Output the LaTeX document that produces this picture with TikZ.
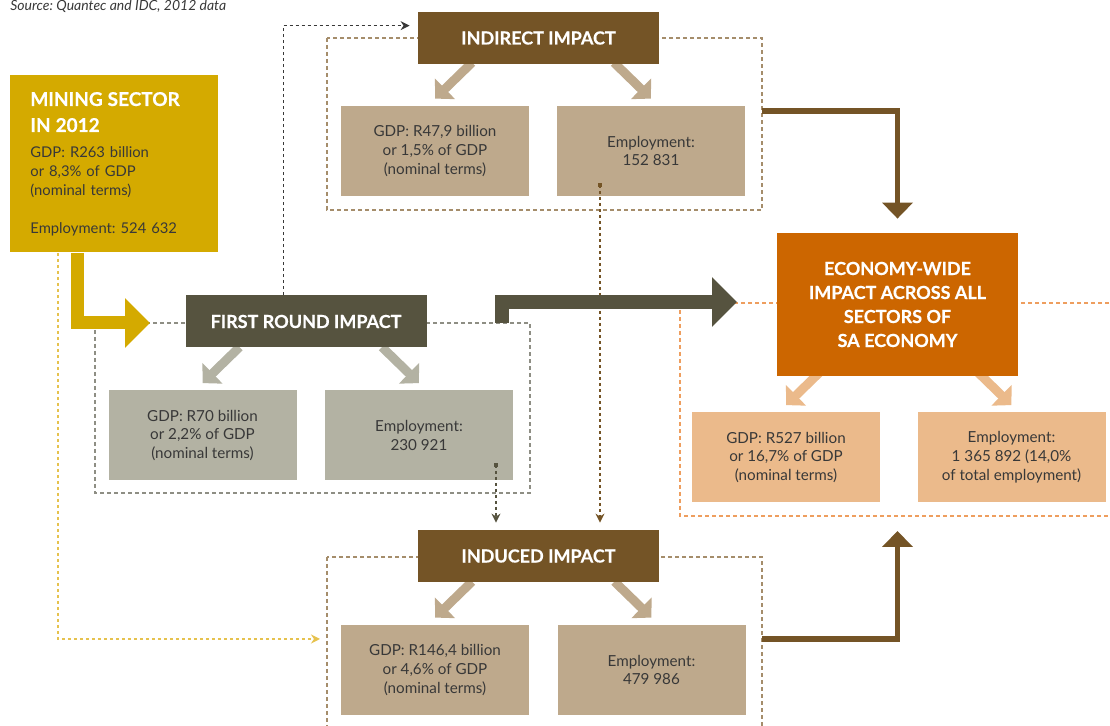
\documentclass[tikz,border=0pt]{standalone}
\usepackage{fontspec}
\setmainfont{Lato}
\newfontfamily\heavyfont[BoldFeatures={FakeBold=0.5}]{Lato}
\usetikzlibrary{arrows.meta,calc,backgrounds}

\definecolor{miningc}{HTML}{D4AA00}
\definecolor{olivec}{HTML}{56533F}
\definecolor{frsubc}{HTML}{B3B2A3}
\definecolor{brownc}{HTML}{745426}
\definecolor{tanc}{HTML}{BEA98C}
\definecolor{ecoc}{HTML}{CC6600}
\definecolor{ecosubc}{HTML}{EBBA8B}
\definecolor{txtc}{HTML}{383838}
\definecolor{frlinec}{HTML}{8E8E84}
\definecolor{indlinec}{HTML}{A58D6B}
\definecolor{ecolinec}{HTML}{EE9E5E}
\definecolor{yellowlinec}{HTML}{E6C24E}

\begin{document}
\frenchspacing
\begin{tikzpicture}[x=0.5pt, y=-0.5pt,
    hdr/.style={minimum width=120.5pt, minimum height=26pt, inner sep=0pt,
        text=white, align=center, font=\heavyfont\bfseries\fontsize{9}{12}\selectfont},
    sub/.style={minimum width=94pt, minimum height=45pt, inner sep=0pt,
        align=center, text=txtc, font=\fontsize{7.6}{9.4}\selectfont},
    frame/.style={line width=0.6pt, dash pattern=on 2pt off 1.5pt},
    link/.style={line width=0.6pt, dash pattern=on 1.5pt off 1.5pt,
        -{Stealth[length=4.5pt,width=4.5pt]}},
    subarrow/.style={line width=4.5pt, -{Triangle[length=7pt,width=14pt]}},
    bigarrow/.style={line width=6.5pt, -{Triangle[length=12.5pt,width=24pt]}},
    midarrow/.style={brownc, line width=2.8pt, -{Triangle[length=8pt,width=15pt]}},
    marker/.style={fill, minimum size=2pt, inner sep=0pt}
]
\useasboundingbox (0,0) rectangle (1110,726);

% Source
\node[anchor=base west, inner sep=0pt, text=txtc,
    font=\itshape\fontsize{7}{8}\selectfont] (src) at (10,11)
    {Source: Quantec and IDC, 2012 data};

% Nodes
\node[fill=miningc, anchor=north west, minimum width=104pt, minimum height=88.5pt,
    inner xsep=10pt, inner ysep=0pt, text width=84pt, align=left, text=txtc,
    font=\fontsize{7.4}{9.4}\selectfont] (mining) at (10,75)
    {{\color{white}\heavyfont\bfseries\fontsize{9.5}{13}\selectfont MINING SECTOR\\IN 2012\par}
     \vspace{3.6pt}GDP: R263 billion\\or 8,3\% of GDP\\(nominal terms)\\[9.4pt]Employment: 524 632};

\node[hdr, fill=olivec] (fr) at (306,321.5) {FIRST ROUND IMPACT};
\node[sub, fill=frsubc] (frgdp) at (202.5,435.5) {GDP: R70 billion\\or 2,2\% of GDP\\(nominal terms)};
\node[sub, fill=frsubc] (fremp) at (419,435.5) {Employment:\\230 921};

\node[hdr, fill=brownc] (ind) at (538.5,38) {INDIRECT IMPACT};
\node[sub, fill=tanc] (indgdp) at (435,151) {GDP: R47,9 billion\\or 1,5\% of GDP\\(nominal terms)};
\node[sub, fill=tanc] (indemp) at (651,151) {Employment:\\152 831};

\node[hdr, fill=brownc] (idc) at (538.5,556) {INDUCED IMPACT};
\node[sub, fill=tanc] (idcgdp) at (435,670) {GDP: R146,4 billion\\or 4,6\% of GDP\\(nominal terms)};
\node[sub, fill=tanc] (idcemp) at (651.5,670) {Employment:\\479 986};

\node[hdr, fill=ecoc, minimum height=71.5pt] (eco) at (897.5,304.5)
    {ECONOMY-WIDE\\IMPACT ACROSS ALL\\SECTORS OF\\SA ECONOMY};
\node[sub, fill=ecosubc] (ecogdp) at (786,457.5) {GDP: R527 billion\\or 16,7\% of GDP\\(nominal terms)};
\node[sub, fill=ecosubc] (ecoemp) at (1011.5,457.5) {Employment:\\1 365 892 (14,0\%\\of total employment)};

% Frames
\coordinate (frNW) at (95,323);   \coordinate (frSE) at (530,493);
\coordinate (indNW) at (327,38);  \coordinate (indSE) at (762,210);
\coordinate (idcNW) at (327,557); \coordinate (idcSE) at (762,760);
\coordinate (ecoNW) at (680,303); \coordinate (ecoSE) at (1140,516);
\coordinate (m1) at (496,465);
\coordinate (m2) at (600,185);

\begin{scope}[on background layer]
    \draw[frame, frlinec] (frNW) rectangle (frSE);
    \draw[frame, indlinec] (indNW) rectangle (indSE);
    \draw[frame, indlinec] (idcNW) rectangle (idcSE);
    \draw[frame, ecolinec] (ecoNW) rectangle (ecoSE);

    % small arrows
    \draw[subarrow, frsubc] ($(frgdp.north)+(37,-43)$) -- ($(frgdp.north)+(0,-7)$);
    \draw[subarrow, frsubc] ($(fremp.north)+(-37,-43)$) -- ($(fremp.north)+(0,-7)$);
    \draw[subarrow, tanc] ($(indgdp.north)+(37,-43)$) -- ($(indgdp.north)+(0,-7)$);
    \draw[subarrow, tanc] ($(indemp.north)+(-37,-43)$) -- ($(indemp.north)+(0,-7)$);
    \draw[subarrow, tanc] ($(idcgdp.north)+(37,-43)$) -- ($(idcgdp.north)+(0,-7)$);
    \draw[subarrow, tanc] ($(idcemp.north)+(-37,-43)$) -- ($(idcemp.north)+(0,-7)$);
    \draw[subarrow, ecosubc] ($(ecogdp.north)+(37,-43)$) -- ($(ecogdp.north)+(0,-7)$);
    \draw[subarrow, ecosubc] ($(ecoemp.north)+(-37,-43)$) -- ($(ecoemp.north)+(0,-7)$);
\end{scope}

% Edges
\draw[link, txtc] ($(fr.north west)+(98,0)$) |- ($(ind.north west)+(-8,14)$);
\draw[link, yellowlinec] ($(mining.south west)+(48,0)$) |- ($(idcNW)+(-7,82)$);
\draw[link, olivec] (m1) -- ($(m1 |- idc.north)+(0,-7)$);
\draw[link, brownc] (m2) -- ($(m2 |- idc.north)+(0,-7)$);
\node[marker, olivec] at (m1) {};
\node[marker, brownc] at (m2) {};

\draw[bigarrow, miningc] ($(mining.south west)+(67.5,0)$) |- ($(frNW)+(55,0)$);
\draw[bigarrow, olivec, line width=7pt] ($(frNW -| frSE)+(-28,0)$) |- ($(ecoNW)+(57,-1)$);
\draw[midarrow] ($(indSE)+(0,-99)$) -| ($(eco.north)+(0,-14)$);
\draw[midarrow] ($(idcNW -| idcSE)+(0,82)$) -| ($(ecoSE -| eco.south)+(0,15)$);
\end{tikzpicture}
\end{document}
